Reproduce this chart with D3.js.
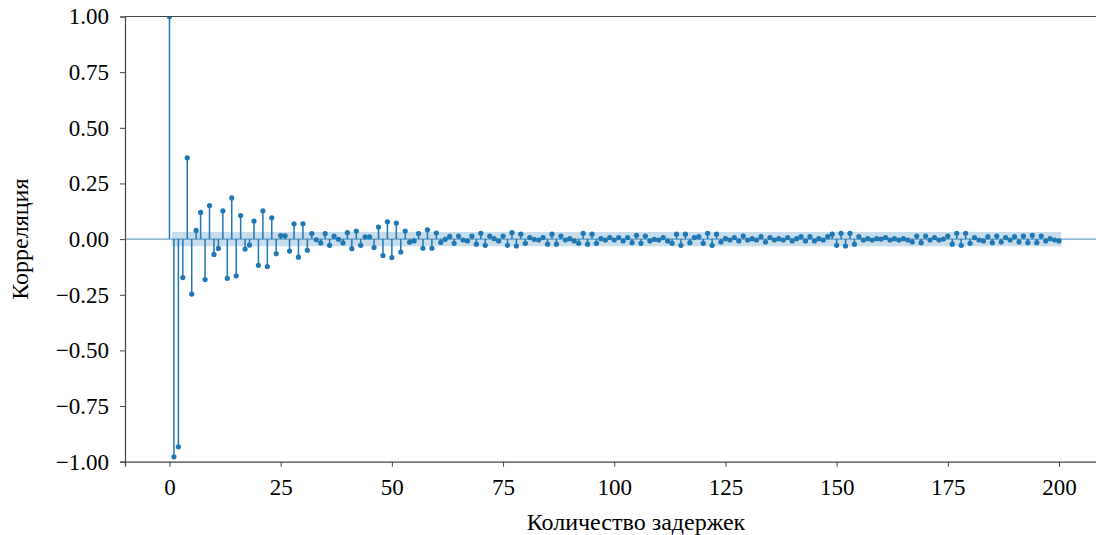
<!DOCTYPE html>
<html>
<head>
<meta charset="utf-8">
<script src="https://cdn.jsdelivr.net/npm/d3@7"></script>
<style>
  html, body { margin: 0; padding: 0; background: #fff; }
  svg { display: block; }
</style>
</head>
<body>
<svg id="chart" width="1096" height="535"></svg>
<script>
// ---- data ----
const acfValues = [
  1.000, -0.978, -0.933, -0.173, 0.365, -0.247, 0.039, 0.120, -0.182, 0.151,
  -0.069, -0.042, 0.127, -0.176, 0.185, -0.165, 0.106, -0.045, -0.027, 0.081,
  -0.118, 0.127, -0.123, 0.096, -0.066, 0.016, 0.015, -0.054, 0.069, -0.081,
  0.069, -0.050, 0.025, -0.003, -0.017, 0.025, -0.028, 0.013, -0.001, -0.017,
  0.029, -0.043, 0.036, -0.028, 0.010, 0.010, -0.038, 0.054, -0.074, 0.078,
  -0.083, 0.072, -0.058, 0.036, -0.014, -0.008, 0.025, -0.041, 0.042, -0.041,
  0.027, -0.015, -0.001, 0.012, -0.019, 0.014, -0.004, -0.008, 0.014, -0.023,
  0.026, -0.028, 0.014, 0.002, -0.008, 0.014, -0.028, 0.029, -0.031, 0.022,
  -0.019, 0.007, -0.001, -0.004, 0.007, -0.023, 0.022, -0.023, 0.014, -0.004,
  0.002, -0.008, -0.019, 0.026, -0.023, 0.022, -0.019, 0.002, -0.004, 0.007,
  -0.004, 0.007, -0.008, 0.007, -0.016, 0.017, -0.019, 0.014, -0.008, -0.001,
  -0.004, 0.007, -0.008, -0.019, 0.022, -0.028, 0.022, -0.016, 0.007, 0.011,
  -0.019, 0.026, -0.028, 0.022, -0.013, 0.002, -0.004, 0.007, -0.008, 0.014,
  -0.004, 0.002, -0.004, 0.011, -0.013, 0.007, -0.004, 0.002, -0.004, 0.007,
  -0.008, 0.002, 0.011, -0.008, 0.011, -0.008, 0.002, -0.004, 0.011, 0.022,
  -0.028, 0.026, -0.031, 0.026, -0.023, 0.011, -0.004, 0.002, -0.004, 0.002,
  0.000, 0.007, -0.004, 0.002, -0.004, 0.002, -0.004, -0.013, 0.014, -0.016,
  0.014, -0.004, 0.007, -0.004, 0.000, 0.014, -0.023, 0.026, -0.028, 0.026,
  -0.019, 0.007, -0.004, -0.008, 0.011, -0.016, 0.014, -0.013, 0.007, -0.004,
  0.011, -0.013, 0.014, -0.016, 0.017, -0.016, 0.014, -0.008, 0.002, -0.004,
  -0.008
];
const lags = acfValues.map((_, i) => i);
const confHalfWidth = [0.032];           // constant confidence band half-width
const bandLags = [0.5, 200.5];           // band extent in lags
const xTicks = [0, 25, 50, 75, 100, 125, 150, 175, 200];
const yTicks = [-1.00, -0.75, -0.50, -0.25, 0.00, 0.25, 0.50, 0.75, 1.00];
const xLabel = "Количество задержек";
const yLabel = "Корреляция";

// ---- layout ----
const svg = d3.select("#chart");
const pLeft = 125, pRight = 1103.5, pTop = 16.5, pBottom = 461.7;
const blue = "#1f77b4";
const serif = "'Liberation Serif'";

const x = d3.scaleLinear().domain([-10, 210]).range([pLeft, pRight]);
const y = d3.scaleLinear().domain([-1, 1]).range([pBottom, pTop]);

svg.append("defs").append("clipPath").attr("id", "clip")
  .append("rect").attr("x", pLeft).attr("y", pTop)
  .attr("width", pRight - pLeft).attr("height", pBottom - pTop);

const plot = svg.append("g").attr("clip-path", "url(#clip)");

// confidence band
const c = confHalfWidth[0];
const bandData = bandLags.map(l => ({l}));
plot.append("path")
  .datum(bandData)
  .attr("d", d3.area().x(d => x(d.l)).y0(y(-c)).y1(y(c)))
  .attr("fill", blue).attr("fill-opacity", 0.25).attr("stroke", "none");

// zero line
plot.append("line")
  .attr("x1", pLeft).attr("x2", pRight)
  .attr("y1", y(0)).attr("y2", y(0))
  .attr("stroke", blue).attr("stroke-opacity", 0.65).attr("stroke-width", 1.2);

// stems
plot.selectAll("line.stem").data(lags).enter().append("line")
  .attr("class", "stem")
  .attr("x1", d => x(d)).attr("x2", d => x(d))
  .attr("y1", y(0)).attr("y2", d => y(acfValues[d]))
  .attr("stroke", blue).attr("stroke-width", 1.5);

// markers
plot.selectAll("circle.pt").data(lags).enter().append("circle")
  .attr("class", "pt")
  .attr("cx", d => x(d)).attr("cy", d => y(acfValues[d]))
  .attr("r", 2.6)
  .attr("fill", blue);

// axes
const fmt = v => (v < 0 ? "\u2212" : "") + Math.abs(v).toFixed(2);

const yAxis = svg.append("g").attr("transform", `translate(${pLeft},0)`)
  .call(d3.axisLeft(y).tickValues(yTicks).tickFormat(fmt).tickSize(5).tickPadding(11));
const xAxis = svg.append("g").attr("transform", `translate(0,${pBottom})`)
  .call(d3.axisBottom(x).tickValues(xTicks).tickFormat(d3.format("d")).tickSize(5).tickPadding(12));

[yAxis, xAxis].forEach(a => {
  a.attr("font-family", null).attr("font-size", null);
  a.select(".domain").attr("stroke", "#444").attr("stroke-width", 1.2);
  a.selectAll(".tick line").attr("stroke", "#444").attr("stroke-width", 1);
  a.selectAll(".tick text")
    .style("font-family", serif).style("font-size", "23px").attr("fill", "#000");
});

// top spine
svg.append("line")
  .attr("x1", pLeft).attr("x2", pRight).attr("y1", pTop).attr("y2", pTop)
  .attr("stroke", "#444").attr("stroke-width", 1.2);

// axis labels
svg.append("text")
  .attr("x", 636).attr("y", 530)
  .attr("text-anchor", "middle")
  .style("font-family", serif).style("font-size", "24px").attr("fill", "#000")
  .text(xLabel);

svg.append("text")
  .attr("transform", `translate(28,${(pTop + pBottom) / 2}) rotate(-90)`)
  .attr("text-anchor", "middle")
  .style("font-family", serif).style("font-size", "24px").attr("fill", "#000")
  .text(yLabel);
</script>
</body>
</html>
